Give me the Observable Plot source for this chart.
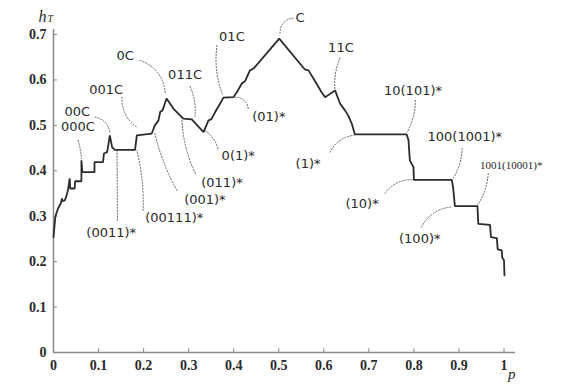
<!DOCTYPE html>
<html>
<head>
<meta charset="utf-8">
<script src="https://cdn.jsdelivr.net/npm/d3@7"></script>
<script src="https://cdn.jsdelivr.net/npm/@observablehq/plot@0.6"></script>
<style>
  body { margin: 0; background: #fff; }
</style>
</head>
<body>
<div id="chart"></div>
<script>
// Topological entropy h_T as a function of p (piecewise, with plateaus and spikes)
const pValues = [
  0.000, 0.004, 0.006, 0.010, 0.016, 0.019, 0.020, 0.025, 0.028, 0.032,
  0.036, 0.037, 0.047, 0.048, 0.062, 0.062, 0.064, 0.091, 0.091, 0.110,
  0.112, 0.119, 0.125, 0.130, 0.136, 0.181, 0.185, 0.218, 0.225, 0.233,
  0.237, 0.242, 0.251, 0.266, 0.288, 0.307, 0.333, 0.344, 0.350, 0.355,
  0.362, 0.370, 0.377, 0.399, 0.407, 0.418, 0.425, 0.436, 0.444, 0.501,
  0.558, 0.566, 0.580, 0.595, 0.603, 0.625, 0.636, 0.647, 0.654, 0.662,
  0.669, 0.784, 0.788, 0.791, 0.799, 0.800, 0.884, 0.887, 0.891, 0.941,
  0.943, 0.969, 0.971, 0.984, 0.986, 0.995, 0.996, 1.000, 1.001
];
const hValues = [
  0.254, 0.298, 0.305, 0.317, 0.328, 0.339, 0.333, 0.335, 0.342, 0.357,
  0.383, 0.361, 0.361, 0.377, 0.377, 0.423, 0.397, 0.397, 0.419, 0.419,
  0.438, 0.441, 0.478, 0.452, 0.446, 0.446, 0.478, 0.482, 0.500, 0.511,
  0.530, 0.533, 0.559, 0.537, 0.515, 0.513, 0.485, 0.511, 0.513, 0.522,
  0.535, 0.548, 0.561, 0.562, 0.573, 0.592, 0.597, 0.621, 0.625, 0.691,
  0.623, 0.621, 0.598, 0.573, 0.562, 0.577, 0.548, 0.533, 0.522, 0.504,
  0.480, 0.480, 0.467, 0.423, 0.408, 0.380, 0.380, 0.364, 0.322, 0.322,
  0.283, 0.281, 0.254, 0.252, 0.227, 0.225, 0.209, 0.203, 0.170
];

// Axis ticks
const xTicks = [0, 0.1, 0.2, 0.3, 0.4, 0.5, 0.6, 0.7, 0.8, 0.9, 1];
const xTickLabels = ["0", "0.1", "0.2", "0.3", "0.4", "0.5", "0.6", "0.7", "0.8", "0.9", "1"];
const yTicks = [0, 0.1, 0.2, 0.3, 0.4, 0.5, 0.6, 0.7];
const yTickLabels = ["0", "0.1", "0.2", "0.3", "0.4", "0.5", "0.6", "0.7"];

// Symbolic sequence annotations: text, text anchor point, leader start and end (p, h)
const labelText = [
  "000C", "00C", "001C", "0C", "011C", "01C", "C", "11C",
  "10(101)*", "100(1001)*", "1001(10001)*",
  "(01)*", "0(1)*", "(011)*", "(001)*", "(00111)*", "(0011)*",
  "(1)*", "(10)*", "(100)*"
];
const labelP = [
  0.054, 0.053, 0.117, 0.159, 0.292, 0.396, 0.547, 0.638,
  0.798, 0.913, 1.016,
  0.478, 0.410, 0.374, 0.336, 0.268, 0.128,
  0.565, 0.685, 0.813
];
const labelH = [
  0.496, 0.529, 0.579, 0.652, 0.612, 0.694, 0.736, 0.670,
  0.577, 0.474, 0.412,
  0.518, 0.434, 0.374, 0.335, 0.297, 0.264,
  0.416, 0.328, 0.251
];
const leadFromP = [
  0.055, 0.092, 0.152, 0.192, 0.303, 0.363, 0.532, 0.636,
  0.803, 0.907, 0.965,
  0.432, 0.365, 0.315, 0.274, 0.199, 0.142,
  0.614, 0.736, 0.817
];
const leadFromH = [
  0.467, 0.518, 0.562, 0.643, 0.586, 0.676, 0.736, 0.648,
  0.555, 0.449, 0.394,
  0.537, 0.449, 0.394, 0.357, 0.313, 0.291,
  0.441, 0.351, 0.276
];
const leadToP = [
  0.062, 0.125, 0.185, 0.248, 0.314, 0.376, 0.503, 0.625,
  0.785, 0.887, 0.941,
  0.403, 0.336, 0.285, 0.225, 0.185, 0.141,
  0.667, 0.800, 0.882
];
const leadToH = [
  0.427, 0.482, 0.496, 0.570, 0.520, 0.566, 0.703, 0.577,
  0.485, 0.383, 0.324,
  0.562, 0.489, 0.515, 0.482, 0.445, 0.445,
  0.478, 0.380, 0.320
];
const leadBend = [
  5, 40, -30, 35, 15, -15, -45, -15,
  15, 15, 15,
  -45, -20, 12, 8, -8, 0,
  30, 30, 30
];

const curve = pValues.map((p, i) => ({p, h: hValues[i]}));
const notes = labelText.map((t, i) => ({
  text: t,
  p: labelP[i], h: labelH[i],
  p1: leadFromP[i], h1: leadFromH[i],
  p2: leadToP[i], h2: leadToH[i],
  bend: leadBend[i]
}));
const bigNotes = notes.filter(d => d.text !== "1001(10001)*");
const smallNotes = notes.filter(d => d.text === "1001(10001)*");

const axisGray = "#8a8a8a";
const ink = "#2a2a2a";
const serif = "'Liberation Serif', 'DejaVu Serif', serif";

const chart = Plot.plot({
  width: 561,
  height: 388,
  marginLeft: 53,
  marginRight: 46,
  marginTop: 29,
  marginBottom: 36,
  x: {domain: [0, 1.0255]},
  y: {domain: [0, 0.711]},
  style: {fontFamily: serif, fontSize: "14px", background: "#fff", color: ink},
  marks: [
    Plot.ruleX([0], {stroke: axisGray, strokeWidth: 1.5}),
    Plot.ruleY([0], {stroke: axisGray, strokeWidth: 1.5}),
    Plot.axisX({
      ticks: xTicks,
      tickFormat: d => xTickLabels[xTicks.indexOf(d)],
      tickSize: -4,
      tickPadding: 12,
      stroke: axisGray,
      fill: ink,
      fontFamily: serif,
      fontSize: 14,
      fontWeight: 600,
      label: null
    }),
    Plot.axisY({
      ticks: yTicks,
      tickFormat: d => yTickLabels[yTicks.indexOf(d)],
      tickSize: -4,
      tickPadding: 11,
      stroke: axisGray,
      fill: ink,
      fontFamily: serif,
      fontSize: 14,
      fontWeight: 600,
      label: null
    }),
    // dotted leaders from each label to its point on the curve
    ...notes.map(d => Plot.arrow([d], {
      x1: "p1", y1: "h1", x2: "p2", y2: "h2",
      bend: d.bend,
      headLength: 0,
      stroke: "#666",
      strokeWidth: 1,
      strokeDasharray: "1.2,1.8"
    })),
    Plot.line(curve, {x: "p", y: "h", stroke: "#2b2b2b", strokeWidth: 1.8, strokeLinejoin: "miter"}),
    Plot.text(bigNotes, {
      x: "p", y: "h", text: "text",
      fontFamily: "DejaVu Sans", fontSize: 13, fill: ink
    }),
    Plot.text(smallNotes, {
      x: "p", y: "h", text: "text",
      fontFamily: serif, fontSize: 11, fill: ink
    }),
    // axis titles: h_T and p
    Plot.text(["h"], {
      frameAnchor: "top-left", dx: -15, dy: -19, textAnchor: "start",
      fontFamily: "Liberation Serif", fontStyle: "italic", fontSize: 16, fill: ink
    }),
    Plot.text(["T"], {
      frameAnchor: "top-left", dx: -6, dy: -15, textAnchor: "start",
      fontFamily: "Liberation Serif", fontStyle: "italic", fontSize: 10, fill: ink
    }),
    Plot.text(["p"], {
      frameAnchor: "bottom-right", dx: 0, dy: 26,
      fontFamily: "Liberation Serif", fontStyle: "italic", fontSize: 15, fill: ink
    })
  ]
});

document.getElementById("chart").appendChild(chart);
</script>
</body>
</html>
